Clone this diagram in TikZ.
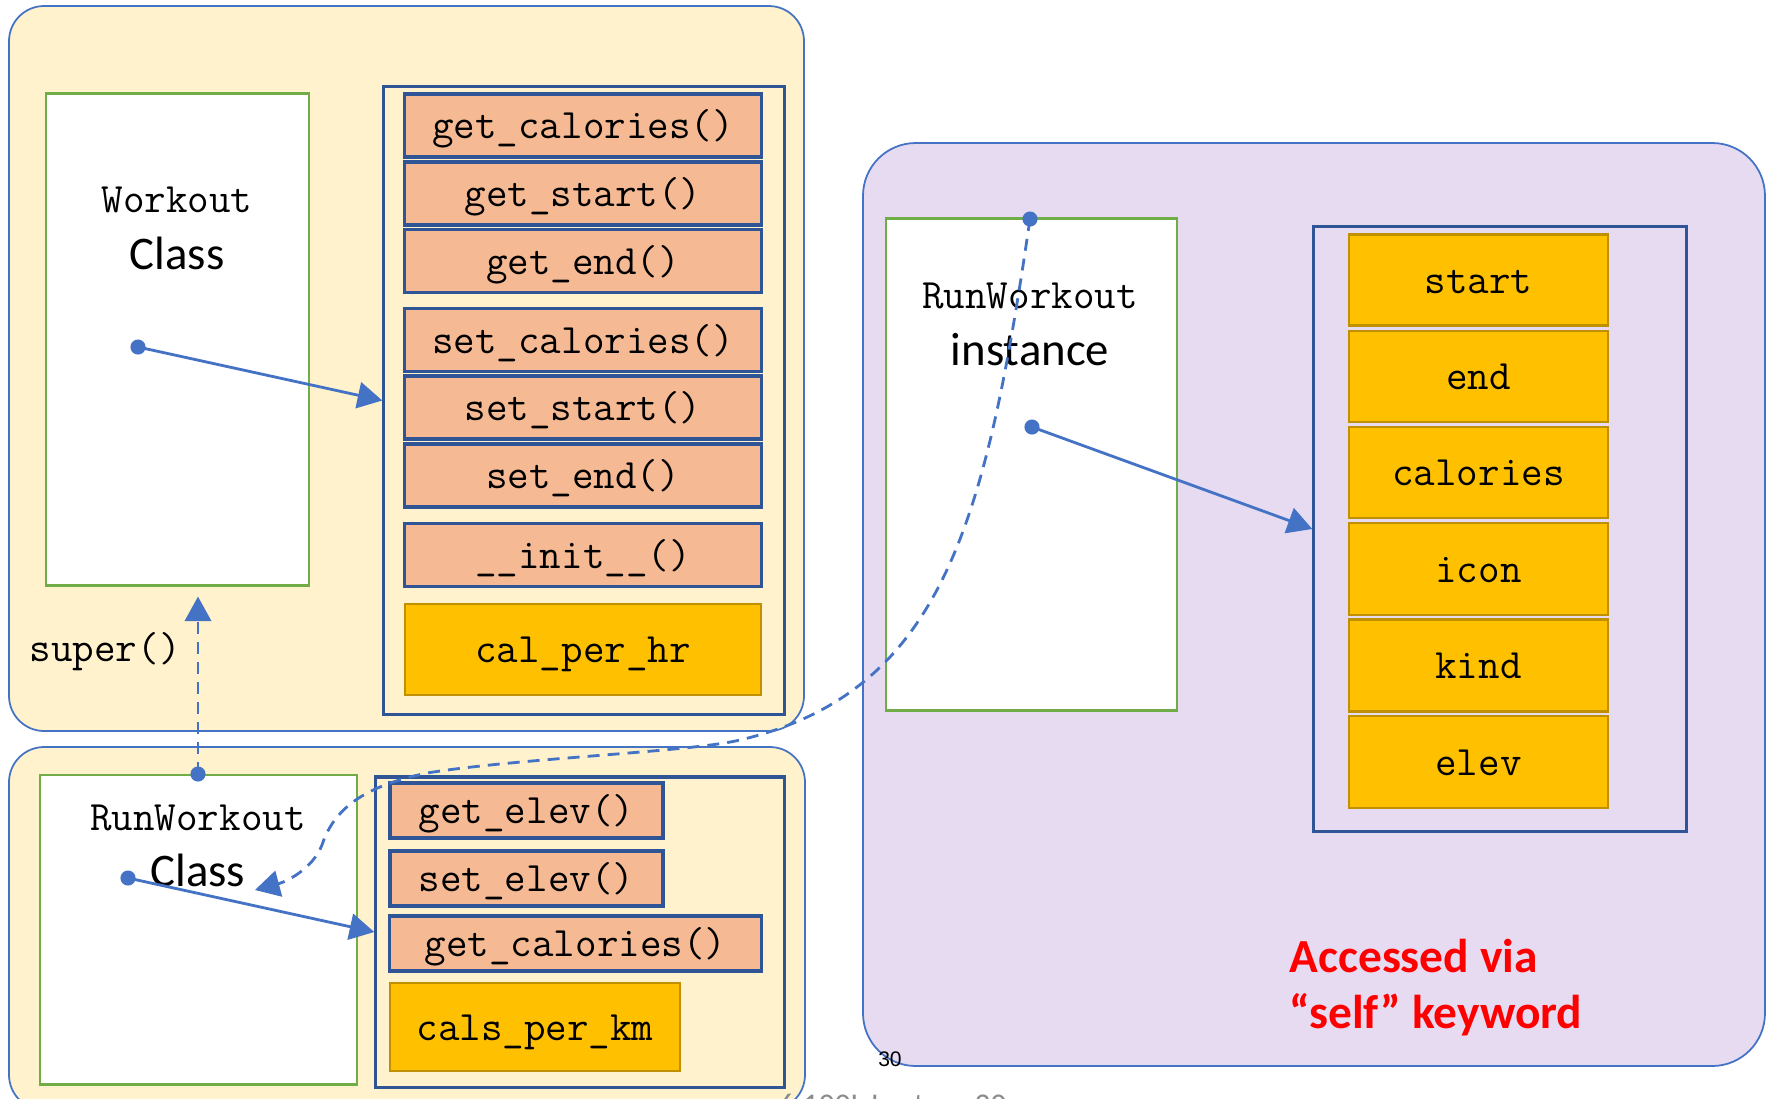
\documentclass[tikz,border=0pt]{standalone}
\usepackage{fontspec}
\setmainfont{Carlito}
\newfontfamily\arialf{Liberation Sans}
\usetikzlibrary{arrows.meta,calc}
\definecolor{panelY}{HTML}{FFF2CC}
\definecolor{panelP}{HTML}{E7DBF2}
\definecolor{bblue}{HTML}{4472C4}
\definecolor{dblue}{HTML}{2F5597}
\definecolor{cgreen}{HTML}{70AD47}
\definecolor{salmon}{HTML}{F5BA94}
\definecolor{gold}{HTML}{FFC000}
\definecolor{goldb}{HTML}{BF9000}
\definecolor{grayt}{HTML}{8C8C8C}
\begin{document}
\begin{tikzpicture}[x=0.01cm,y=-0.01cm,
  panel/.style={draw=bblue, line width=0.5pt, rounded corners=10pt},
  cls/.style={draw=cgreen, fill=white, line width=0.8pt, inner sep=0pt},
  cont/.style={draw=dblue, line width=0.9pt, inner sep=0pt},
  meth/.style={draw=dblue, fill=salmon, line width=0.9pt, inner sep=0pt,
    font=\ttfamily\fontsize{11.9}{13}\selectfont, text height=8.4pt, text depth=1.0pt},
  fld/.style={draw=goldb, fill=gold, line width=0.7pt, inner sep=0pt,
    font=\ttfamily\fontsize{11.9}{13}\selectfont, text height=8.4pt, text depth=1.0pt},
  mono/.style={font=\ttfamily\fontsize{11.9}{13}\selectfont, inner sep=0pt},
  big/.style={font=\fontsize{13.3}{16}\selectfont, inner sep=0pt},
  redt/.style={font=\bfseries\fontsize{13.5}{16}\selectfont, text=red, inner sep=0pt},
  conn/.style={draw=bblue, line width=0.8pt, -{Triangle[length=7pt,width=7.5pt]}},
  dashconn/.style={conn, dash pattern=on 3.4pt off 2.3pt},
  bdot/.style={circle, fill=bblue, inner sep=0pt, minimum size=4.3pt}]
\useasboundingbox (0,0) rectangle (1771,1099);
\clip (0,0) rectangle (1771,1099);
\fill[white] (0,0) rectangle (1771,1099);

% panels
\draw[panel, fill=panelY] (9,6) rectangle (804,731);
\draw[panel, fill=panelY] (9,747) rectangle (805,1110);
\draw[panel, fill=panelP, rounded corners=15pt] (863,143) rectangle (1765,1066);

% ---------- Workout class ----------
\node[cls, minimum width=2.63cm, minimum height=4.91cm] (wk) at (177.5,339.5) {};
\node[mono, anchor=base] (wkt) at (177,212) {Workout};
\node[big, anchor=base] (wkc) at (177,269) {Class};
\node[cont, minimum width=4.00cm, minimum height=6.27cm] (mc) at (584,400.5) {};
\node[meth, minimum width=3.56cm, minimum height=0.63cm] (m1) at (583,125.5) {get\_calories()};
\node[meth, minimum width=3.56cm, minimum height=0.63cm] (m2) at (583,193.5) {get\_start()};
\node[meth, minimum width=3.56cm, minimum height=0.63cm] (m3) at (583,261) {get\_end()};
\node[meth, minimum width=3.56cm, minimum height=0.63cm] (m4) at (583,340) {set\_calories()};
\node[meth, minimum width=3.56cm, minimum height=0.63cm] (m5) at (583,407.5) {set\_start()};
\node[meth, minimum width=3.56cm, minimum height=0.63cm] (m6) at (583,475.5) {set\_end()};
\node[meth, minimum width=3.56cm, minimum height=0.63cm] (m7) at (583,555) {\_\_init\_\_()};
\node[fld, minimum width=3.56cm, minimum height=0.91cm] (m8) at (583,649.5) {cal\_per\_hr};
\node[bdot] (wdot) at (138,347) {};
\draw[conn] (wdot.center) -- (mc.west);
\node[mono, anchor=base west] (sup) at (29,661) {super()};

% ---------- RunWorkout class ----------
\node[cls, minimum width=3.17cm, minimum height=3.09cm] (rw) at (198.5,929.5) {};
\node[mono, anchor=base] (rwt) at (198,830) {RunWorkout};
\node[big, anchor=base] (rwc) at (198,886) {Class};
\node[cont, minimum width=4.08cm, minimum height=3.10cm] (mc2) at (580,932) {};
\node[meth, minimum width=2.73cm, minimum height=0.55cm] (r1) at (526.5,810.5) {get\_elev()};
\node[meth, minimum width=2.73cm, minimum height=0.55cm] (r2) at (526.5,878.5) {set\_elev()};
\node[meth, minimum width=3.71cm, minimum height=0.55cm] (r3) at (575.5,943.5) {get\_calories()};
\node[fld, minimum width=2.90cm, minimum height=0.88cm] (r4) at (535,1027) {cals\_per\_km};
\node[bdot] (rdot) at (128,878) {};
\draw[conn] (rdot.center) -- (mc2.west);
\node[bdot] (rtop) at (198,774) {};
\draw[dashconn] (rtop.center) -- ($(rtop.center |- wk.south)+(0,10)$);

% ---------- RunWorkout instance ----------
\node[cls, minimum width=2.91cm, minimum height=4.91cm] (ri) at (1031.5,464.5) {};
\node[mono, anchor=base] (rit) at (1030,308) {RunWorkout};
\node[big, anchor=base] (ric) at (1030,365) {instance};
\node[cont, minimum width=3.72cm, minimum height=6.04cm] (ic) at (1500,529) {};
\node[fld, minimum width=2.59cm, minimum height=0.91cm] (f1) at (1478.5,280) {start};
\node[fld, minimum width=2.59cm, minimum height=0.91cm] (f2) at (1478.5,376.5) {end};
\node[fld, minimum width=2.59cm, minimum height=0.91cm] (f3) at (1478.5,472.5) {calories};
\node[fld, minimum width=2.59cm, minimum height=0.92cm] (f4) at (1478.5,569) {icon};
\node[fld, minimum width=2.59cm, minimum height=0.92cm] (f5) at (1478.5,665.5) {kind};
\node[fld, minimum width=2.59cm, minimum height=0.92cm] (f6) at (1478.5,762) {elev};
\node[bdot] (idot) at (1032,427) {};
\draw[conn] (idot.center) -- (ic.west);
\node[bdot] (itop) at (1030,219) {};

% dashed self arrow
\coordinate (c1) at (740,740);
\coordinate (c2) at (427,773);
\coordinate (c3) at (322,845);
\coordinate (ctip) at (255,890);
\draw[dashconn] (itop.center) .. controls (986,519) and (944,692) .. (c1)
  .. controls (690,752) and (520,758) .. (c2)
  .. controls (370,785) and (335,805) .. (c3)
  .. controls (312,870) and (285,882) .. (ctip);

% texts
\node[redt, anchor=base west] (acc1) at (1289,972) {Accessed via};
\node[redt, anchor=base west] (acc2) at (1289,1028) {“self” keyword};
\node[font=\arialf\fontsize{6}{7}\selectfont, inner sep=0pt] (pg) at (890,1059) {30};
\node[font=\fontsize{9}{11}\selectfont, text=grayt, anchor=base west, inner sep=0pt] (foot) at (778,1115) {6.100L Lecture 30};
\end{tikzpicture}
\end{document}
